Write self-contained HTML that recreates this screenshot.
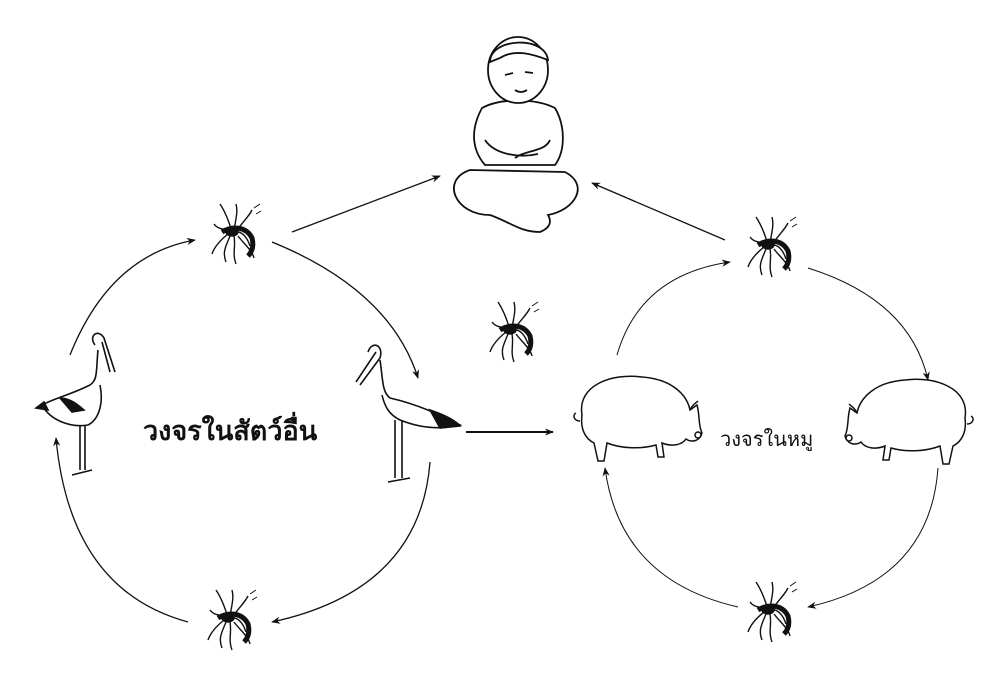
<!DOCTYPE html>
<html><head><meta charset="utf-8"><style>
html,body{margin:0;padding:0;background:#fff;}
svg{display:block;}
text{font-family:"Liberation Sans","DejaVu Sans",sans-serif;}
</style></head><body>
<svg width="1000" height="686" viewBox="0 0 1000 686" xmlns="http://www.w3.org/2000/svg">
<defs>
<marker id="a" viewBox="0 0 10 10" refX="9" refY="5" markerWidth="9" markerHeight="9" orient="auto-start-reverse" markerUnits="userSpaceOnUse">
<path d="M0,1 L10,5 L0,9 L3,5 z" fill="#111"/></marker>
<g id="mos" stroke="#111" fill="none" stroke-width="1.4">
<path d="M0,0 C-8,-4 -14,-2 -18,-8 M0,0 C8,-2 14,2 18,14 M0,0 C-4,-14 -8,-22 -12,-28 M2,-2 C4,-14 6,-20 4,-28 M4,0 C10,-10 16,-14 20,-22 M-2,4 C-6,14 -10,20 -6,30 M2,4 C4,14 0,22 4,32 M-4,2 C-14,10 -18,16 -20,22 M6,4 C12,12 20,18 22,26"/>
<path d="M-10,0 C0,-6 14,-6 20,6 C22,14 20,20 16,24" stroke-width="5"/>
<ellipse cx="0" cy="0" rx="6" ry="4" fill="#111"/>
<path d="M22,-24 l6,-4 M24,-18 l5,-3" stroke-width="1"/>
</g>
<g id="pig" stroke="#111" fill="none" stroke-width="1.5">
<path d="M10,30 C5,0 40,-12 70,-8 C100,-6 115,10 118,25 L125,20 C128,30 126,40 130,48 C128,56 120,58 114,54 C110,60 100,62 90,58 L92,72 L86,72 L84,60 C70,64 50,64 35,58 L32,76 L26,76 L22,58 C14,54 8,45 10,30 Z"/>
<path d="M8,36 C2,36 0,30 4,28"/><path d="M118,25 C120,20 124,18 126,16"/>
<circle cx="126" cy="50" r="3"/>
</g>
</defs>

<g stroke="#111" stroke-width="1.3" fill="none">
<path d="M292,232 L440,176" marker-end="url(#a)"/>
<path d="M725,240 L592,183" marker-end="url(#a)"/>
<path d="M466,432 L553,432" stroke-width="2" marker-end="url(#a)"/>
<path d="M70,355 Q110,255 195,240" marker-end="url(#a)"/>
<path d="M272,242 Q390,290 418,378" marker-end="url(#a)"/>
<path d="M430,462 Q420,590 272,622" marker-end="url(#a)"/>
<path d="M188,622 Q70,590 56,438" marker-end="url(#a)"/>
<path d="M617,355 Q640,275 730,262" marker-end="url(#a)" stroke-width="1"/>
<path d="M808,268 Q910,300 928,380" marker-end="url(#a)" stroke-width="1"/>
<path d="M938,468 Q930,580 808,607" marker-end="url(#a)" stroke-width="1"/>
<path d="M738,607 Q620,580 605,468" marker-end="url(#a)" stroke-width="1"/>
</g>

<use href="#mos" x="232" y="232"/>
<use href="#mos" x="228" y="618"/>
<use href="#mos" x="510" y="330"/>
<use href="#mos" x="768" y="245"/>
<use href="#mos" x="768" y="610"/>

<g stroke="#111" fill="#fff" stroke-width="1.8">
<path d="M470,170 C440,180 455,215 490,215 C510,222 520,232 540,232 C550,228 552,222 548,215 C575,210 590,185 565,172 Z"/>
<path d="M482,108 C470,130 472,150 485,165 L555,165 C566,150 565,125 555,108 C535,98 500,98 482,108 Z"/>
<path d="M485,140 C495,155 520,158 538,154 M515,158 C525,150 545,152 550,140" fill="none"/>
<ellipse cx="518" cy="70" rx="30" ry="33"/>
<path d="M490,62 C490,38 545,35 548,60 C535,55 515,48 500,58 Z" fill="#fff"/>
<path d="M505,75 l8,-2 M525,72 l8,1 M515,90 q6,4 12,0" fill="none"/>
</g>

<g stroke="#111" fill="none" stroke-width="1.6">
<path d="M95,345 C88,336 98,328 104,338 L115,372 M102,342 L110,372 M98,350 C96,370 98,380 90,385 C70,395 55,398 42,405 C50,420 70,428 88,425 C98,420 104,405 100,385"/>
<path d="M44,402 L36,408 L48,410 Z M60,398 C70,398 78,405 84,410 L72,412 Z" fill="#111"/>
<path d="M80,425 L80,470 M85,425 L85,470 M72,475 L92,470"/>
<path d="M368,352 C372,340 384,345 380,358 L360,385 M376,352 L356,382 M380,360 C383,380 382,392 390,398 C420,405 440,415 460,425 C440,430 420,428 400,420 C390,415 385,408 382,395"/>
<path d="M430,410 C445,415 455,420 460,426 L440,428 Z" fill="#111"/>
<path d="M395,420 L395,478 M402,420 L402,478 M388,482 L410,478"/>
</g>

<use href="#pig" x="572" y="385"/>
<g transform="translate(975,388) scale(-1,1)"><use href="#pig" x="0" y="0"/></g>

<text x="143" y="440" font-size="27" font-weight="bold" fill="#111">วงจรในสัตว์อื่น</text>
<text x="720" y="446" font-size="20" fill="#111">วงจรในหมู</text>
</svg>
</body></html>
